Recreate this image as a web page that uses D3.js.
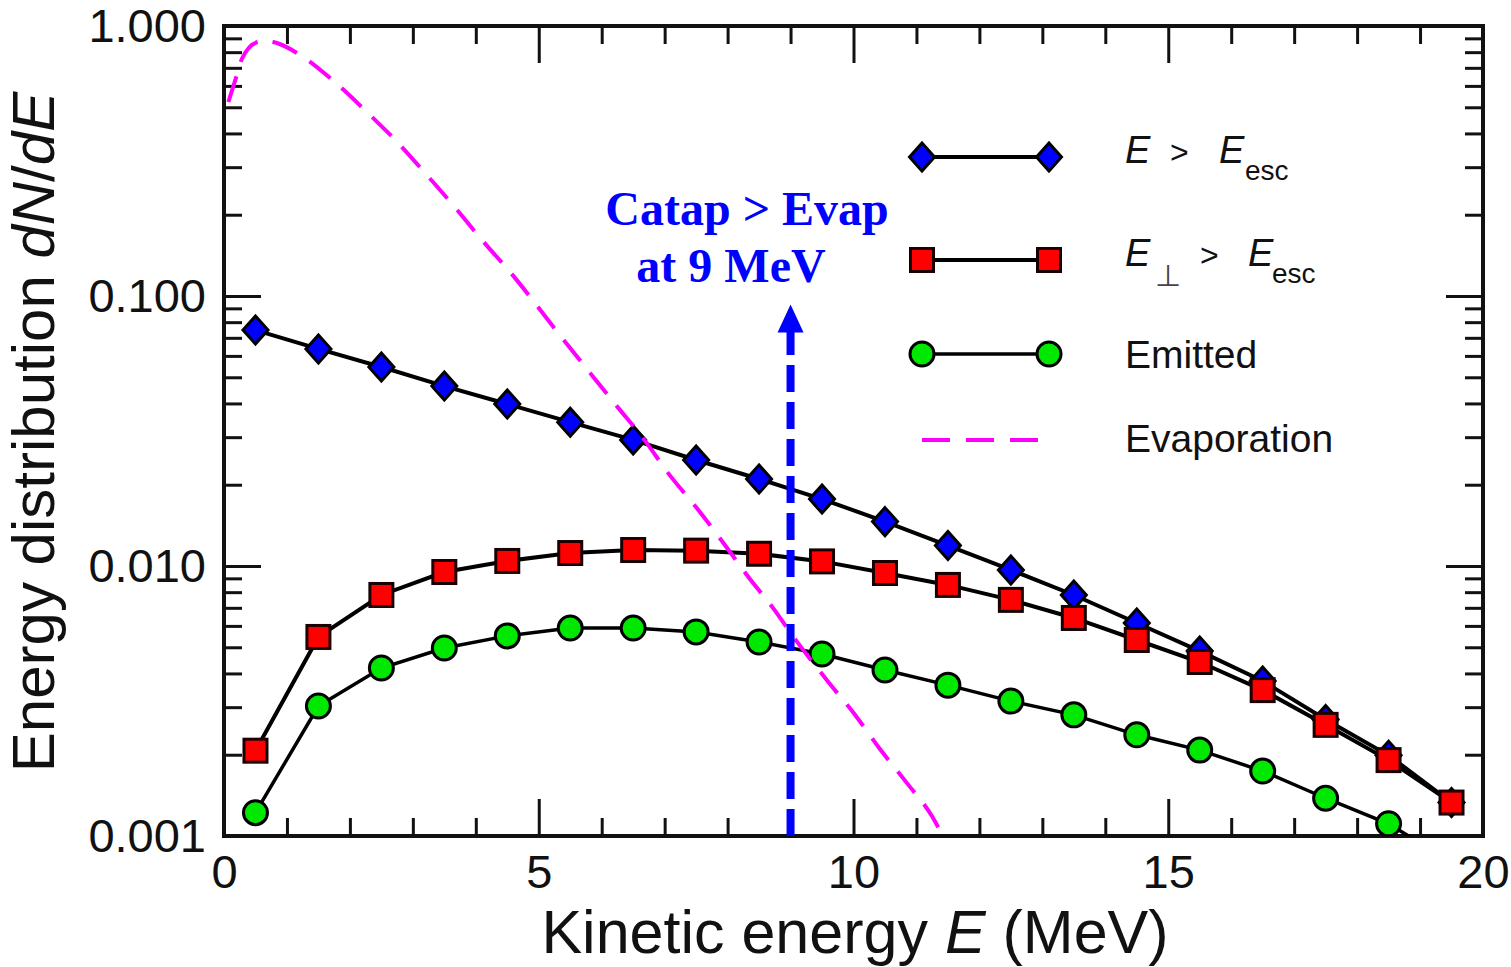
<!DOCTYPE html>
<html lang="en">
<head>
<meta charset="utf-8">
<title>Energy distribution</title>
<script src="https://d3js.org/d3.v7.min.js"></script>
<style>
  html, body { margin: 0; padding: 0; background: #fff; }
  svg text { font-family: "Liberation Sans", Arial, Helvetica, sans-serif; }
  .tick line { stroke: #111; stroke-width: 3; }
  .tick text { font-size: 47px; fill: #111; }
  .domain { display: none; }
</style>
</head>
<body>
<div id="chart"></div>
<script>

// data
var energy = [0.5, 1.5, 2.5, 3.5, 4.5, 5.5, 6.5, 7.5, 8.5, 9.5,
              10.5, 11.5, 12.5, 13.5, 14.5, 15.5, 16.5, 17.5, 18.5, 19.5];

var aboveEsc = [0.0748, 0.0637, 0.0546, 0.0464, 0.0398, 0.0341, 0.0293, 0.0247, 0.0210, 0.0177,
                0.0146, 0.0119, 0.00967, 0.00781, 0.00615, 0.00484, 0.00375, 0.0027, 0.00199, 0.00133];

var perpAboveEsc = [0.00207, 0.00546, 0.00781, 0.0095, 0.01044, 0.01117, 0.01146, 0.0114, 0.0111, 0.0104,
                    0.00942, 0.00851, 0.00749, 0.00642, 0.00532, 0.00441, 0.00347, 0.00258, 0.00191, 0.00133];

var emitted = [0.00122, 0.00303, 0.00419, 0.00497, 0.00551, 0.00589, 0.00589, 0.0057, 0.00523, 0.00472,
               0.00412, 0.00362, 0.00316, 0.00281, 0.00237, 0.00208, 0.00174, 0.00138, 0.00111, 0.0008];

var evapE = [0.07, 0.19, 0.29, 0.54, 0.68, 0.84, 1.21, 1.76, 2.27, 2.75, 3.22, 3.67, 4.10, 4.54,
             5.37, 5.81, 6.26, 6.66, 7.08, 7.51, 7.93, 8.33, 8.75, 9.0, 9.60, 10.02, 10.42, 10.85, 11.25, 11.42];
var evapN = [0.523, 0.642, 0.761, 0.873, 0.88, 0.865, 0.781, 0.620, 0.480, 0.372, 0.281, 0.213, 0.161, 0.123,
             0.0700, 0.0521, 0.0386, 0.0297, 0.0217, 0.0164, 0.0122, 0.00911, 0.00685, 0.00565, 0.00372, 0.00282,
             0.00210, 0.00157, 0.00118, 0.001];

var xMajor = [0, 5, 10, 15, 20];
var yMajor = [0.001, 0.01, 0.1, 1];
var yLabels = ["0.001", "0.010", "0.100", "1.000"];

var arrowE = 9;
var arrowTop = 0.093;

var w = 1511, h = 967;
var pLeft = 224, pRight = 1483, pTop = 26, pBottom = 836;

var svg = d3.select("#chart").append("svg")
    .attr("width", w)
    .attr("height", h);

var x = d3.scaleLinear().domain([0, 20]).range([pLeft, pRight]);
var y = d3.scaleLog().domain([0.001, 1]).range([pBottom, pTop]);

var xMinor = d3.range(0, 21).filter(function(d) { return d % 5 != 0; });
var yMinor = y.ticks().filter(function(d) { return yMajor.indexOf(d) < 0; });

// ticks, all pointing inward
svg.append("g").attr("transform", "translate(0," + pBottom + ")")
    .call(d3.axisBottom(x).tickValues(xMinor).tickSize(-18).tickFormat(""));
svg.append("g").attr("transform", "translate(0," + pBottom + ")")
    .call(d3.axisBottom(x).tickValues(xMajor).tickSize(-37).tickPadding(19).tickFormat(d3.format("d")));
svg.append("g").attr("transform", "translate(0," + pTop + ")")
    .call(d3.axisTop(x).tickValues(xMinor).tickSize(-18).tickFormat(""));
svg.append("g").attr("transform", "translate(0," + pTop + ")")
    .call(d3.axisTop(x).tickValues(xMajor).tickSize(-37).tickFormat(""));

svg.append("g").attr("transform", "translate(" + pLeft + ",0)")
    .call(d3.axisLeft(y).tickValues(yMinor).tickSize(-18).tickFormat(""));
svg.append("g").attr("transform", "translate(" + pLeft + ",0)")
    .call(d3.axisLeft(y).tickValues(yMajor).tickSize(-37).tickPadding(18)
        .tickFormat(function(d, i) { return yLabels[i]; }));
svg.append("g").attr("transform", "translate(" + pRight + ",0)")
    .call(d3.axisRight(y).tickValues(yMinor).tickSize(-18).tickFormat(""));
svg.append("g").attr("transform", "translate(" + pRight + ",0)")
    .call(d3.axisRight(y).tickValues(yMajor).tickSize(-37).tickFormat(""));

// frame
svg.append("rect")
    .attr("x", pLeft).attr("y", pTop)
    .attr("width", pRight - pLeft).attr("height", pBottom - pTop)
    .attr("fill", "none").attr("stroke", "#111").attr("stroke-width", 4);

// axis titles
svg.append("text")
    .attr("x", 855).attr("y", 953)
    .attr("text-anchor", "middle")
    .style("font-size", "61px").attr("fill", "#111")
    .html('Kinetic energy <tspan font-style="italic">E</tspan> (MeV)');

svg.append("text")
    .attr("transform", "translate(54,432) rotate(-90)")
    .attr("text-anchor", "middle")
    .style("font-size", "60px").attr("fill", "#111")
    .html('Energy distribution <tspan font-style="italic">dN</tspan>/<tspan font-style="italic">dE</tspan>');

svg.append("clipPath").attr("id", "plotclip")
  .append("rect")
    .attr("x", pLeft).attr("y", pTop)
    .attr("width", pRight - pLeft).attr("height", pBottom - pTop);

var plot = svg.append("g").attr("clip-path", "url(#plotclip)");

var line = d3.line()
    .x(function(d) { return x(d[0]); })
    .y(function(d) { return y(d[1]); });

var diamond = "M0,-14L12.5,0L0,14L-12.5,0Z";

function series(vals, width, marker) {
  var pts = d3.zip(energy, vals);
  plot.append("path").datum(pts)
      .attr("d", line)
      .attr("fill", "none").attr("stroke", "#000").attr("stroke-width", width);
  var g = plot.append("g");
  pts.forEach(function(p) { marker(g, x(p[0]), y(p[1])); });
}

function blueDiamond(g, cx, cy) {
  g.append("path").attr("d", diamond)
      .attr("transform", "translate(" + cx + "," + cy + ")")
      .attr("fill", "#0000ff").attr("stroke", "#000").attr("stroke-width", 3);
}
function redSquare(g, cx, cy) {
  g.append("rect").attr("x", cx - 11.5).attr("y", cy - 11.5)
      .attr("width", 23).attr("height", 23)
      .attr("fill", "#ff0000").attr("stroke", "#1a0000").attr("stroke-width", 3);
}
function greenCircle(g, cx, cy) {
  g.append("circle").attr("cx", cx).attr("cy", cy).attr("r", 12)
      .attr("fill", "#00e800").attr("stroke", "#000").attr("stroke-width", 3);
}

series(aboveEsc, 4, blueDiamond);
series(perpAboveEsc, 4, redSquare);
series(emitted, 3.5, greenCircle);

// evaporation curve
plot.append("path").datum(d3.zip(evapE, evapN))
    .attr("d", line.curve(d3.curveMonotoneX))
    .attr("fill", "none").attr("stroke", "#ff00ff").attr("stroke-width", 4)
    .attr("stroke-dasharray", "27,15");
line.curve(d3.curveLinear);

// arrow at 9 MeV
svg.append("path")
    .attr("d", "M" + x(arrowE) + "," + y(0.001) + "L" + x(arrowE) + "," + (y(arrowTop) + 22))
    .attr("stroke", "#0000ff").attr("stroke-width", 8).attr("stroke-dasharray", "27,10");
svg.append("path")
    .attr("d", "M" + x(arrowE) + "," + y(arrowTop) +
               "L" + (x(arrowE) + 13) + "," + (y(arrowTop) + 28) +
               "L" + (x(arrowE) - 13) + "," + (y(arrowTop) + 28) + "Z")
    .attr("fill", "#0000ff");

svg.append("text")
    .attr("x", 747).attr("y", 225)
    .attr("text-anchor", "middle")
    .style("font-family", "'Liberation Serif', 'Times New Roman', serif")
    .style("font-weight", "bold").style("font-size", "48px")
    .attr("fill", "#0000ff")
    .text("Catap > Evap");
svg.append("text")
    .attr("x", 731).attr("y", 282)
    .attr("text-anchor", "middle")
    .style("font-family", "'Liberation Serif', 'Times New Roman', serif")
    .style("font-weight", "bold").style("font-size", "48px")
    .attr("fill", "#0000ff")
    .text("at 9 MeV");

// legend
var legY = [157, 260, 354, 440];
var lx0 = 922, lx1 = 1049, tx = 1125;
var leg = svg.append("g");

[[aboveEsc, blueDiamond, 4], [perpAboveEsc, redSquare, 4], [emitted, greenCircle, 3.5]].forEach(function(s, i) {
  leg.append("line").attr("x1", lx0).attr("x2", lx1).attr("y1", legY[i]).attr("y2", legY[i])
      .attr("stroke", "#000").attr("stroke-width", s[2]);
  s[1](leg, lx0, legY[i]);
  s[1](leg, lx1, legY[i]);
});
leg.append("line").attr("x1", lx0).attr("x2", 1040).attr("y1", legY[3]).attr("y2", legY[3])
    .attr("stroke", "#ff00ff").attr("stroke-width", 4).attr("stroke-dasharray", "28,16");

var lt = leg.append("g").attr("fill", "#111").style("font-size", "38px");
// row 1: E > E_esc
lt.append("text").attr("x", tx).attr("y", 163).style("font-style", "italic").text("E");
lt.append("text").attr("x", 1170).attr("y", 163).style("font-size", "32px").text(">");
lt.append("text").attr("x", 1219).attr("y", 163).style("font-style", "italic").text("E");
lt.append("text").attr("x", 1245).attr("y", 180).style("font-size", "28px").text("esc");
// row 2: E_perp > E_esc
lt.append("text").attr("x", tx).attr("y", 266).style("font-style", "italic").text("E");
lt.append("text").attr("x", 1168).attr("y", 286).attr("text-anchor", "middle")
    .style("font-size", "30px").attr("fill", "#444").text("⊥");
lt.append("text").attr("x", 1200).attr("y", 266).style("font-size", "32px").text(">");
lt.append("text").attr("x", 1248).attr("y", 266).style("font-style", "italic").text("E");
lt.append("text").attr("x", 1272).attr("y", 283).style("font-size", "28px").text("esc");
// rows 3 and 4
lt.append("text").attr("x", tx).attr("y", 368).style("font-size", "39px").text("Emitted");
lt.append("text").attr("x", tx).attr("y", 452).style("font-size", "39px").text("Evaporation");

</script>
</body>
</html>
